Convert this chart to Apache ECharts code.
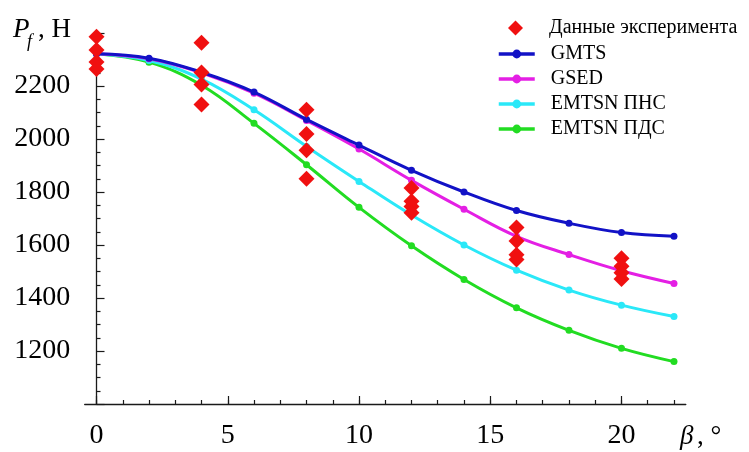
<!DOCTYPE html>
<html>
<head>
<meta charset="utf-8">
<script src="https://cdn.jsdelivr.net/npm/echarts@6/dist/echarts.min.js"></script>
<style>
html,body{margin:0;padding:0;background:#fff;}
#chart{width:749px;height:452px;}
</style>
</head>
<body>
<div id="chart"></div>
<script>
// ---- data ----
const beta = [0, 2, 4, 6, 8, 10, 12, 14, 16, 18, 20, 22];
const gmts = [2322, 2305, 2252, 2177, 2074, 1977, 1882, 1800, 1730, 1682, 1647, 1633];
const gsed = [2322, 2303, 2250, 2173, 2070, 1962, 1844, 1735, 1633, 1564, 1503, 1455];
const emtsnPNS = [2322, 2296, 2226, 2110, 1972, 1840, 1713, 1600, 1505, 1430, 1373, 1330];
const emtsnPDS = [2322, 2290, 2203, 2059, 1903, 1742, 1597, 1470, 1363, 1278, 1210, 1160];
const expBeta = [0, 0, 0, 0, 4, 4, 4, 4, 8, 8, 8, 8, 12, 12, 12, 12, 16, 16, 16, 16, 20, 20, 20, 20];
const expPf = [2386, 2336, 2291, 2264, 2363, 2251, 2206, 2130, 2110, 2019, 1958, 1850,
               1815, 1765, 1745, 1722, 1666, 1615, 1563, 1545, 1550, 1520, 1495, 1472];
const xTickLabels = [0, 5, 10, 15, 20];
const xMinorTicks = [0,1,2,3,4,5,6,7,8,9,10,11,12,13,14,15,16,17,18,19,20,21,22];
const yTickLabels = [1200, 1400, 1600, 1800, 2000, 2200];
const names = ['Данные эксперимента', 'GMTS', 'GSED', 'EMTSN ПНС', 'EMTSN ПДС'];

const FONT = '"Liberation Serif", "Times New Roman", serif';
const zip = (xs, ys) => xs.map((x, i) => [x, ys[i]]);

const chart = echarts.init(document.getElementById('chart'), null, {renderer: 'canvas'});

function lineSeries(name, vals, color, z) {
  return {
    name: name, type: 'line', data: zip(beta, vals), smooth: 0.4,
    symbol: 'circle', symbolSize: 7, z: z,
    lineStyle: {color: color, width: 3},
    itemStyle: {color: color},
    emphasis: {disabled: true}
  };
}

const axisCol = '#1a1a1a';
const legendText = {fontFamily: FONT, fontSize: 20, color: '#000', lineHeight: 20};
const option = {
  animation: false,
  backgroundColor: '#fff',
  textStyle: {fontFamily: FONT},
  grid: {left: 84.7, right: 63.2, top: 33, bottom: 48, containLabel: false, outerBoundsMode: 'none'},
  xAxis: [{
    type: 'value', min: -0.45, max: 22.45, interval: 1, position: 'bottom',
    axisLine: {onZero: false, lineStyle: {color: axisCol, width: 1.3}},
    axisTick: {inside: true, length: 4, customValues: xMinorTicks, lineStyle: {color: axisCol, width: 1.2}},
    axisLabel: {customValues: xTickLabels, margin: 18, color: '#000', fontFamily: FONT, fontSize: 28,
                formatter: v => String(v)},
    splitLine: {show: false}
  }, {
    type: 'value', min: -0.45, max: 22.45, interval: 1, position: 'bottom',
    axisLine: {show: false, onZero: false},
    axisTick: {inside: true, length: 8, customValues: xTickLabels, lineStyle: {color: axisCol, width: 1.2}},
    axisLabel: {show: false},
    splitLine: {show: false}
  }],
  yAxis: {
    type: 'value', min: 1000, max: 2400, interval: 200,
    axisLine: {show: true, onZero: true, onZeroAxisIndex: 0, lineStyle: {color: axisCol, width: 1.3}},
    axisTick: {show: true, inside: true, length: 8, lineStyle: {color: axisCol, width: 1.2}},
    minorTick: {show: true, splitNumber: 4, length: 4, lineStyle: {color: axisCol, width: 1.2}},
    axisLabel: {customValues: yTickLabels, margin: 14.5, color: '#000', fontFamily: FONT, fontSize: 28,
                formatter: v => String(v)},
    splitLine: {show: false}
  },
  legend: [{
    left: 508, top: 18, orient: 'vertical', padding: 0,
    data: [names[0]],
    itemWidth: 15, itemHeight: 15,
    textStyle: Object.assign({padding: [0, 0, 0, 21]}, legendText),
    selectedMode: false
  }, {
    left: 497, top: 44, orient: 'vertical', padding: 0,
    data: names.slice(1),
    itemWidth: 36, itemHeight: 11, itemGap: 5,
    lineStyle: {width: 3.5},
    textStyle: Object.assign({padding: [0, 0, 0, 11]}, legendText),
    selectedMode: false
  }],
  series: [
    {
      name: names[0], type: 'scatter', data: zip(expBeta, expPf),
      symbol: 'diamond', symbolSize: 16, z: 10,
      itemStyle: {color: '#f01010', opacity: 1},
      emphasis: {disabled: true}
    },
    lineSeries(names[1], gmts, '#1212c6', 6),
    lineSeries(names[2], gsed, '#e41fe4', 5),
    lineSeries(names[3], emtsnPNS, '#2ae8f8', 4),
    lineSeries(names[4], emtsnPDS, '#22dc22', 3)
  ],
  graphic: [
    {type: 'text', left: 13, top: 16, style: {text: 'P', font: 'italic 27px "Liberation Serif"', fill: '#000'}},
    {type: 'text', left: 27, top: 33, style: {text: 'f', font: 'italic 18px "Liberation Serif"', fill: '#000'}},
    {type: 'text', left: 38, top: 16, style: {text: ', Н', font: '27px "Liberation Serif"', fill: '#000'}},
    {type: 'text', left: 680, top: 423, style: {text: 'β', font: 'italic 27px "Liberation Serif"', fill: '#000'}},
    {type: 'text', left: 697, top: 423, style: {text: ', °', font: '27px "Liberation Serif"', fill: '#000'}}
  ]
};
chart.setOption(option);
</script>
</body>
</html>
